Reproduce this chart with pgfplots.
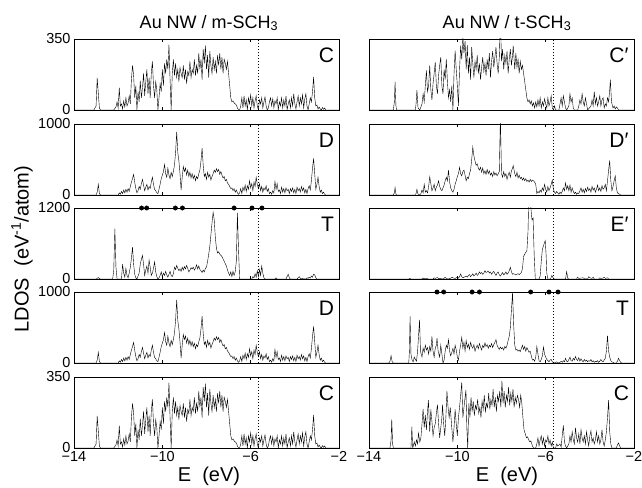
\documentclass[border=0pt]{standalone}
\usepackage{fontspec}
\setmainfont{Liberation Sans}
\usepackage{pgfplots}
\usepackage{pgfplotstable}
\pgfplotsset{compat=1.18}

% left column: Au NW / m-SCH3
\pgfplotstableread[row sep=\\]{
E y\\
-14 0\\ -13.1 0\\ -13.0 20\\ -12.95 158\\ -12.85 10\\ -12.8 0\\ -12.2 0\\ -12.1 15\\ -12.05 40\\ -12.0 10\\
-11.95 110\\ -11.9 20\\ -11.85 30\\ -11.8 5\\ -11.75 45\\ -11.7 15\\ -11.65 60\\ -11.6 20\\ -11.55 35\\ -11.5 70\\
-11.45 30\\ -11.4 150\\ -11.35 220\\ -11.3 170\\ -11.25 60\\ -11.2 120\\ -11.15 0\\ -11.1 90\\ -11.05 40\\ -11.0 145\\
-10.95 60\\ -10.9 110\\ -10.85 180\\ -10.8 70\\ -10.75 140\\ -10.7 200\\ -10.65 80\\ -10.6 160\\ -10.55 60\\ -10.5 180\\
-10.45 240\\ -10.4 120\\ -10.35 60\\ -10.3 140\\ -10.25 100\\ -10.2 0\\ -10.15 60\\ -10.1 130\\ -10.05 90\\ -10.0 200\\
-9.95 120\\ -9.9 230\\ -9.85 180\\ -9.8 250\\ -9.75 200\\ -9.7 322\\ -9.65 150\\ -9.6 0\\ -9.55 180\\ -9.5 250\\
-9.45 170\\ -9.4 230\\ -9.35 160\\ -9.3 200\\ -9.25 140\\ -9.2 210\\ -9.15 180\\ -9.1 160\\ -9.05 220\\ -9.0 150\\
-8.95 200\\ -8.9 130\\ -8.85 190\\ -8.8 170\\ -8.75 240\\ -8.7 160\\ -8.65 200\\ -8.6 180\\ -8.55 250\\ -8.5 170\\
-8.45 220\\ -8.4 180\\ -8.35 280\\ -8.3 200\\ -8.25 250\\ -8.2 150\\ -8.15 300\\ -8.1 230\\ -8.05 317\\ -8.0 200\\
-7.95 270\\ -7.9 160\\ -7.85 290\\ -7.8 220\\ -7.75 180\\ -7.7 260\\ -7.65 200\\ -7.6 240\\ -7.55 180\\ -7.5 270\\
-7.45 220\\ -7.4 280\\ -7.35 200\\ -7.3 260\\ -7.25 180\\ -7.2 250\\ -7.15 230\\ -7.1 200\\ -7.05 240\\ -7.0 180\\
-6.95 120\\ -6.9 60\\ -6.85 40\\ -6.8 45\\ -6.75 35\\ -6.7 30\\ -6.65 25\\ -6.6 10\\ -6.55 0\\ -6.5 0\\
-6.45 20\\ -6.4 60\\ -6.35 10\\ -6.3 70\\ -6.25 20\\ -6.2 50\\ -6.15 0\\ -6.1 60\\ -6.05 30\\ -6.0 75\\
-5.95 20\\ -5.9 60\\ -5.85 10\\ -5.8 45\\ -5.75 70\\ -5.7 20\\ -5.65 0\\ -5.6 50\\ -5.55 30\\ -5.5 60\\
-5.45 10\\ -5.4 40\\ -5.35 65\\ -5.3 20\\ -5.25 0\\ -5.2 10\\ -5.15 40\\ -5.1 60\\ -5.05 20\\ -5.0 55\\
-4.95 10\\ -4.9 45\\ -4.85 30\\ -4.8 60\\ -4.75 0\\ -4.7 40\\ -4.65 20\\ -4.6 60\\ -4.55 10\\ -4.5 50\\
-4.45 20\\ -4.4 70\\ -4.35 0\\ -4.3 30\\ -4.25 50\\ -4.2 10\\ -4.15 60\\ -4.1 20\\ -4.05 80\\ -4.0 30\\
-3.95 5\\ -3.9 40\\ -3.85 70\\ -3.8 20\\ -3.75 60\\ -3.7 30\\ -3.65 75\\ -3.6 10\\ -3.55 55\\ -3.5 80\\
-3.45 20\\ -3.4 0\\ -3.35 30\\ -3.3 60\\ -3.25 40\\ -3.2 90\\ -3.15 163\\ -3.1 60\\ -3.05 20\\ -3.0 25\\
-2.95 5\\ -2.9 15\\ -2.85 5\\ -2.8 0\\ -2.75 12\\ -2.7 3\\ -2.65 10\\ -2.6 0\\ -2.0 0\\
}\tCL

\pgfplotstableread[row sep=\\]{
E y\\
-14 0\\ -13.0 0\\ -12.95 40\\ -12.9 150\\ -12.85 20\\ -12.8 0\\ -12.0 0\\ -11.95 30\\ -11.9 10\\ -11.85 50\\
-11.8 20\\ -11.75 70\\ -11.7 30\\ -11.65 80\\ -11.6 40\\ -11.55 90\\ -11.5 50\\ -11.45 120\\ -11.4 180\\ -11.35 230\\
-11.3 290\\ -11.25 180\\ -11.2 90\\ -11.15 30\\ -11.1 60\\ -11.05 120\\ -11.0 80\\ -10.95 160\\ -10.9 220\\ -10.85 140\\
-10.8 60\\ -10.75 110\\ -10.7 150\\ -10.65 70\\ -10.6 120\\ -10.55 90\\ -10.5 180\\ -10.45 250\\ -10.4 150\\ -10.35 80\\
-10.3 60\\ -10.25 30\\ -10.2 20\\ -10.15 80\\ -10.1 150\\ -10.05 230\\ -10.0 280\\ -9.95 330\\ -9.9 430\\ -9.85 300\\
-9.8 250\\ -9.75 380\\ -9.7 280\\ -9.65 230\\ -9.6 320\\ -9.55 260\\ -9.5 330\\ -9.45 420\\ -9.4 600\\ -9.35 890\\
-9.3 600\\ -9.25 480\\ -9.2 300\\ -9.15 70\\ -9.1 250\\ -9.05 400\\ -9.0 330\\ -8.95 380\\ -8.9 280\\ -8.85 350\\
-8.8 260\\ -8.75 320\\ -8.7 240\\ -8.65 300\\ -8.6 230\\ -8.55 280\\ -8.5 200\\ -8.45 260\\ -8.4 230\\ -8.35 300\\
-8.3 350\\ -8.25 480\\ -8.2 660\\ -8.15 420\\ -8.1 260\\ -8.05 300\\ -8.0 220\\ -7.95 320\\ -7.9 250\\ -7.85 290\\
-7.8 210\\ -7.75 260\\ -7.7 300\\ -7.65 350\\ -7.6 320\\ -7.55 370\\ -7.5 330\\ -7.45 360\\ -7.4 290\\ -7.35 330\\
-7.3 280\\ -7.25 240\\ -7.2 260\\ -7.15 200\\ -7.1 220\\ -7.05 170\\ -7.0 150\\ -6.95 120\\ -6.9 90\\ -6.85 100\\
-6.8 60\\ -6.75 90\\ -6.7 40\\ -6.65 70\\ -6.6 30\\ -6.55 10\\ -6.5 30\\ -6.45 90\\ -6.4 20\\ -6.35 110\\
-6.3 60\\ -6.25 140\\ -6.2 50\\ -6.15 130\\ -6.1 80\\ -6.05 200\\ -6.0 100\\ -5.95 160\\ -5.9 60\\ -5.85 180\\
-5.8 120\\ -5.75 250\\ -5.7 150\\ -5.65 90\\ -5.6 160\\ -5.55 60\\ -5.5 120\\ -5.45 40\\ -5.4 100\\ -5.35 70\\
-5.3 130\\ -5.25 50\\ -5.2 90\\ -5.15 20\\ -5.1 40\\ -5.05 10\\ -5.0 60\\ -4.95 30\\ -4.9 190\\ -4.85 80\\
-4.8 160\\ -4.75 50\\ -4.7 70\\ -4.65 20\\ -4.6 110\\ -4.55 40\\ -4.5 90\\ -4.45 30\\ -4.4 100\\ -4.35 60\\
-4.3 80\\ -4.25 20\\ -4.2 90\\ -4.15 50\\ -4.1 100\\ -4.05 30\\ -4.0 80\\ -3.95 20\\ -3.9 110\\ -3.85 60\\
-3.8 90\\ -3.75 40\\ -3.7 120\\ -3.65 60\\ -3.6 100\\ -3.55 30\\ -3.5 80\\ -3.45 20\\ -3.4 90\\ -3.35 130\\
-3.3 70\\ -3.25 200\\ -3.2 380\\ -3.15 515\\ -3.1 300\\ -3.05 80\\ -3.0 150\\ -2.95 250\\ -2.9 120\\ -2.85 40\\
-2.8 70\\ -2.75 20\\ -2.7 40\\ -2.65 10\\ -2.6 0\\ -2.0 0\\
}\tDL

\pgfplotstableread[row sep=\\]{
E y\\
-14 0\\ -13.0 0\\ -12.95 10\\ -12.9 25\\ -12.85 10\\ -12.8 0\\ -12.25 0\\ -12.2 150\\ -12.15 850\\ -12.1 200\\
-12.05 0\\ -11.85 0\\ -11.8 250\\ -11.75 100\\ -11.7 30\\ -11.65 180\\ -11.6 60\\ -11.55 20\\ -11.5 100\\ -11.45 200\\
-11.4 350\\ -11.35 540\\ -11.3 250\\ -11.25 80\\ -11.2 20\\ -11.15 0\\ -11.1 50\\ -11.05 100\\ -11.0 250\\ -10.95 330\\
-10.9 400\\ -10.85 250\\ -10.8 60\\ -10.75 150\\ -10.7 220\\ -10.65 100\\ -10.6 320\\ -10.55 200\\ -10.5 60\\ -10.45 100\\
-10.4 180\\ -10.35 290\\ -10.3 120\\ -10.25 40\\ -10.2 0\\ -10.15 20\\ -10.1 60\\ -10.05 120\\ -10.0 40\\ -9.95 100\\
-9.9 60\\ -9.85 130\\ -9.8 70\\ -9.75 30\\ -9.7 80\\ -9.65 130\\ -9.6 60\\ -9.55 40\\ -9.5 90\\ -9.45 200\\
-9.4 160\\ -9.35 230\\ -9.3 180\\ -9.25 140\\ -9.2 170\\ -9.15 130\\ -9.1 200\\ -9.05 150\\ -9.0 210\\ -8.95 170\\
-8.9 230\\ -8.85 180\\ -8.8 120\\ -8.75 150\\ -8.7 190\\ -8.65 170\\ -8.6 200\\ -8.55 150\\ -8.5 180\\ -8.45 240\\
-8.4 170\\ -8.35 220\\ -8.3 160\\ -8.25 140\\ -8.2 110\\ -8.15 150\\ -8.1 120\\ -8.05 180\\ -8.0 200\\ -7.95 300\\
-7.9 420\\ -7.85 550\\ -7.8 750\\ -7.75 950\\ -7.7 1127\\ -7.65 1000\\ -7.6 700\\ -7.55 520\\ -7.5 440\\ -7.45 460\\
-7.4 420\\ -7.35 400\\ -7.3 380\\ -7.25 340\\ -7.2 300\\ -7.15 260\\ -7.1 220\\ -7.05 150\\ -7.0 100\\ -6.95 60\\
-6.9 120\\ -6.85 40\\ -6.8 130\\ -6.75 60\\ -6.7 120\\ -6.65 300\\ -6.6 1116\\ -6.55 500\\ -6.5 0\\ -5.95 0\\
-5.9 40\\ -5.85 20\\ -5.8 90\\ -5.75 30\\ -5.7 140\\ -5.65 40\\ -5.6 160\\ -5.55 60\\ -5.5 220\\ -5.45 100\\
-5.4 20\\ -5.35 0\\ -4.9 0\\ -4.85 20\\ -4.8 0\\ -4.4 0\\ -4.35 40\\ -4.3 80\\ -4.25 20\\ -4.2 0\\
-3.9 0\\ -3.85 20\\ -3.8 40\\ -3.75 10\\ -3.5 0\\ -3.45 20\\ -3.4 10\\ -3.35 30\\ -3.3 15\\ -3.25 50\\
-3.2 30\\ -3.15 80\\ -3.1 70\\ -3.05 20\\ -3.0 0\\ -2.0 0\\
}\tTL

% right column: Au NW / t-SCH3
\pgfplotstableread[row sep=\\]{
E y\\
-14 0\\ -12.9 0\\ -12.85 40\\ -12.82 138\\ -12.78 20\\ -12.75 0\\ -11.9 0\\ -11.87 30\\ -11.83 98\\ -11.78 10\\
-11.7 0\\ -11.6 30\\ -11.55 80\\ -11.5 40\\ -11.45 120\\ -11.4 195\\ -11.35 90\\ -11.3 120\\ -11.25 220\\ -11.2 100\\
-11.15 50\\ -11.1 130\\ -11.05 180\\ -11.0 236\\ -10.95 120\\ -10.9 80\\ -10.85 170\\ -10.8 220\\ -10.75 260\\ -10.7 120\\
-10.65 80\\ -10.6 200\\ -10.55 150\\ -10.5 250\\ -10.45 140\\ -10.4 60\\ -10.35 100\\ -10.3 40\\ -10.25 120\\ -10.2 0\\
-10.15 180\\ -10.1 293\\ -10.05 200\\ -10.0 120\\ -9.95 20\\ -9.9 200\\ -9.85 317\\ -9.8 250\\ -9.75 358\\ -9.7 280\\
-9.65 340\\ -9.6 200\\ -9.55 320\\ -9.5 180\\ -9.45 260\\ -9.4 150\\ -9.35 310\\ -9.3 230\\ -9.25 160\\ -9.2 240\\
-9.15 200\\ -9.1 270\\ -9.05 180\\ -9.0 230\\ -8.95 150\\ -8.9 210\\ -8.85 260\\ -8.8 190\\ -8.75 230\\ -8.7 170\\
-8.65 250\\ -8.6 200\\ -8.55 280\\ -8.5 160\\ -8.45 240\\ -8.4 290\\ -8.35 210\\ -8.3 260\\ -8.25 310\\ -8.2 230\\
-8.15 180\\ -8.1 260\\ -8.05 450\\ -8.0 240\\ -7.95 300\\ -7.9 200\\ -7.85 270\\ -7.8 230\\ -7.75 290\\ -7.7 180\\
-7.65 250\\ -7.6 300\\ -7.55 220\\ -7.5 270\\ -7.47 317\\ -7.4 200\\ -7.35 280\\ -7.3 210\\ -7.25 250\\ -7.2 180\\
-7.15 240\\ -7.1 200\\ -7.05 220\\ -7.0 180\\ -6.95 140\\ -6.9 100\\ -6.85 60\\ -6.8 40\\ -6.75 50\\ -6.7 30\\
-6.65 45\\ -6.6 20\\ -6.55 35\\ -6.5 10\\ -6.45 40\\ -6.4 15\\ -6.35 50\\ -6.3 20\\ -6.25 60\\ -6.2 10\\
-6.15 40\\ -6.1 20\\ -6.05 55\\ -6.0 30\\ -5.95 10\\ -5.9 60\\ -5.85 20\\ -5.8 40\\ -5.75 70\\ -5.7 10\\
-5.65 0\\ -5.6 20\\ -5.55 0\\ -5.4 0\\ -5.35 30\\ -5.3 60\\ -5.25 20\\ -5.2 70\\ -5.15 40\\ -5.1 10\\
-5.05 0\\ -4.95 20\\ -4.9 80\\ -4.85 40\\ -4.8 60\\ -4.75 10\\ -4.7 0\\ -4.55 0\\ -4.5 20\\ -4.45 50\\
-4.4 30\\ -4.35 80\\ -4.3 40\\ -4.25 20\\ -4.2 60\\ -4.15 30\\ -4.1 0\\ -3.95 20\\ -3.9 50\\ -3.85 20\\
-3.8 90\\ -3.75 30\\ -3.7 60\\ -3.65 20\\ -3.6 40\\ -3.55 70\\ -3.5 20\\ -3.45 50\\ -3.4 60\\ -3.35 10\\
-3.3 30\\ -3.25 20\\ -3.2 60\\ -3.15 40\\ -3.1 100\\ -3.07 150\\ -3.02 40\\ -2.95 10\\ -2.9 20\\ -2.85 5\\
-2.8 15\\ -2.75 10\\ -2.7 0\\ -2.0 0\\
}\tCRa

\pgfplotstableread[row sep=\\]{
E y\\
-14 0\\ -12.9 0\\ -12.85 30\\ -12.82 105\\ -12.78 10\\ -12.75 0\\ -11.9 0\\ -11.87 20\\ -11.83 80\\ -11.78 10\\
-11.7 0\\ -11.65 20\\ -11.6 70\\ -11.55 30\\ -11.5 150\\ -11.45 40\\ -11.4 60\\ -11.35 30\\ -11.3 120\\ -11.25 257\\
-11.2 160\\ -11.15 60\\ -11.1 100\\ -11.05 150\\ -11.0 60\\ -10.95 110\\ -10.9 140\\ -10.85 200\\ -10.8 120\\ -10.75 80\\
-10.7 60\\ -10.65 100\\ -10.6 140\\ -10.55 200\\ -10.5 250\\ -10.45 200\\ -10.4 350\\ -10.35 180\\ -10.3 100\\ -10.25 60\\
-10.2 40\\ -10.15 80\\ -10.1 150\\ -10.05 200\\ -10.0 260\\ -9.95 300\\ -9.9 390\\ -9.85 300\\ -9.8 270\\ -9.75 330\\
-9.7 350\\ -9.65 280\\ -9.6 200\\ -9.55 250\\ -9.5 230\\ -9.45 300\\ -9.4 350\\ -9.35 500\\ -9.3 676\\ -9.25 550\\
-9.2 480\\ -9.15 420\\ -9.1 440\\ -9.05 380\\ -9.0 350\\ -8.95 390\\ -8.9 320\\ -8.85 380\\ -8.8 300\\ -8.75 340\\
-8.7 290\\ -8.65 360\\ -8.6 300\\ -8.55 340\\ -8.5 280\\ -8.45 310\\ -8.4 260\\ -8.35 330\\ -8.3 280\\ -8.25 310\\
-8.2 270\\ -8.15 300\\ -8.1 330\\ -8.05 1100\\ -8.0 300\\ -7.95 250\\ -7.9 330\\ -7.85 260\\ -7.8 300\\ -7.75 220\\
-7.7 280\\ -7.65 320\\ -7.6 250\\ -7.55 340\\ -7.5 380\\ -7.47 414\\ -7.4 300\\ -7.35 260\\ -7.3 320\\ -7.25 240\\
-7.2 280\\ -7.15 230\\ -7.1 250\\ -7.05 210\\ -7.0 240\\ -6.95 200\\ -6.9 230\\ -6.85 190\\ -6.8 210\\ -6.75 180\\
-6.7 220\\ -6.65 190\\ -6.6 210\\ -6.55 200\\ -6.5 180\\ -6.45 150\\ -6.4 20\\ -6.35 50\\ -6.3 30\\ -6.25 70\\
-6.2 40\\ -6.15 100\\ -6.1 60\\ -6.05 150\\ -6.0 80\\ -5.95 40\\ -5.9 120\\ -5.85 60\\ -5.8 100\\ -5.75 150\\
-5.7 210\\ -5.65 80\\ -5.6 40\\ -5.55 20\\ -5.5 50\\ -5.45 30\\ -5.4 10\\ -5.35 40\\ -5.3 20\\ -5.25 50\\
-5.2 100\\ -5.15 60\\ -5.1 170\\ -5.05 80\\ -5.0 130\\ -4.95 60\\ -4.9 140\\ -4.85 40\\ -4.8 100\\ -4.75 50\\
-4.7 20\\ -4.65 40\\ -4.6 10\\ -4.55 30\\ -4.5 20\\ -4.45 60\\ -4.4 100\\ -4.35 40\\ -4.3 80\\ -4.25 30\\
-4.2 90\\ -4.15 50\\ -4.1 110\\ -4.05 60\\ -4.0 90\\ -3.95 40\\ -3.9 120\\ -3.85 70\\ -3.8 100\\ -3.75 40\\
-3.7 80\\ -3.65 140\\ -3.6 60\\ -3.55 100\\ -3.5 50\\ -3.45 130\\ -3.4 80\\ -3.35 100\\ -3.3 150\\ -3.25 60\\
-3.2 200\\ -3.15 350\\ -3.1 486\\ -3.05 200\\ -3.0 60\\ -2.95 120\\ -2.9 200\\ -2.85 270\\ -2.8 100\\ -2.75 30\\
-2.7 20\\ -2.65 10\\ -2.6 0\\ -2.0 0\\
}\tDR

\pgfplotstableread[row sep=\\]{
E y\\
-14 0\\ -12.2 0\\ -12.15 10\\ -12.1 0\\ -11.6 0\\ -11.55 15\\ -11.5 5\\ -11.4 10\\ -11.3 0\\ -11.1 0\\
-11.05 20\\ -11.0 10\\ -10.9 25\\ -10.85 5\\ -10.6 10\\ -10.55 30\\ -10.5 10\\ -10.45 0\\ -10.3 10\\ -10.25 30\\
-10.2 20\\ -10.1 10\\ -10.0 30\\ -9.95 15\\ -9.9 40\\ -9.85 85\\ -9.8 40\\ -9.75 20\\ -9.7 30\\ -9.6 50\\
-9.55 30\\ -9.5 60\\ -9.45 75\\ -9.4 40\\ -9.35 60\\ -9.3 90\\ -9.25 50\\ -9.2 70\\ -9.15 100\\ -9.1 60\\
-9.05 80\\ -9.0 120\\ -8.95 90\\ -8.9 110\\ -8.85 80\\ -8.8 100\\ -8.75 140\\ -8.7 110\\ -8.65 120\\ -8.6 135\\
-8.55 100\\ -8.5 120\\ -8.45 80\\ -8.4 110\\ -8.35 130\\ -8.3 90\\ -8.25 60\\ -8.2 100\\ -8.15 120\\ -8.1 70\\
-8.05 50\\ -8.0 80\\ -7.95 110\\ -7.9 70\\ -7.85 90\\ -7.8 120\\ -7.75 80\\ -7.7 100\\ -7.65 140\\ -7.6 200\\
-7.55 120\\ -7.5 80\\ -7.45 90\\ -7.4 80\\ -7.35 70\\ -7.3 80\\ -7.25 90\\ -7.2 75\\ -7.15 90\\ -7.1 110\\
-7.05 180\\ -7.0 380\\ -6.95 420\\ -6.9 450\\ -6.85 480\\ -6.8 800\\ -6.77 1300\\ -6.72 1400\\ -6.67 1200\\ -6.62 1000\\
-6.57 1030\\ -6.52 400\\ -6.47 0\\ -6.3 0\\ -6.25 50\\ -6.2 300\\ -6.15 500\\ -6.1 560\\ -6.05 620\\ -6.02 650\\
-5.98 400\\ -5.95 100\\ -5.9 0\\ -5.78 0\\ -5.72 60\\ -5.65 10\\ -5.6 0\\ -5.1 0\\ -5.05 125\\ -5.0 10\\
-4.95 0\\ -4.6 0\\ -4.55 30\\ -4.5 10\\ -4.3 20\\ -4.25 5\\ -4.1 0\\ -4.05 40\\ -4.0 20\\ -3.9 10\\
-3.85 30\\ -3.8 0\\ -3.6 0\\ -3.55 20\\ -3.5 10\\ -3.4 15\\ -3.35 30\\ -3.3 10\\ -3.2 20\\ -3.15 0\\
-2.0 0\\
}\tER

\pgfplotstableread[row sep=\\]{
E y\\
-14 0\\ -13.1 0\\ -13.05 30\\ -13.0 124\\ -12.95 20\\ -12.9 0\\ -12.2 0\\ -12.17 200\\ -12.14 790\\ -12.1 150\\
-12.05 50\\ -12.0 20\\ -11.95 100\\ -11.9 60\\ -11.85 30\\ -11.8 200\\ -11.75 500\\ -11.71 730\\ -11.67 200\\ -11.6 100\\
-11.55 250\\ -11.5 180\\ -11.45 300\\ -11.4 220\\ -11.35 260\\ -11.3 150\\ -11.25 280\\ -11.2 200\\ -11.15 450\\ -11.1 200\\
-11.05 100\\ -11.0 250\\ -10.95 300\\ -10.92 420\\ -10.87 200\\ -10.8 100\\ -10.75 300\\ -10.7 150\\ -10.65 0\\ -10.6 50\\
-10.55 200\\ -10.5 300\\ -10.45 250\\ -10.4 395\\ -10.35 200\\ -10.3 120\\ -10.25 180\\ -10.2 250\\ -10.15 150\\ -10.1 300\\
-10.05 220\\ -10.0 100\\ -9.95 50\\ -9.9 200\\ -9.85 300\\ -9.8 434\\ -9.75 250\\ -9.7 350\\ -9.65 200\\ -9.6 380\\
-9.55 260\\ -9.5 320\\ -9.45 230\\ -9.4 350\\ -9.35 280\\ -9.3 250\\ -9.25 310\\ -9.2 200\\ -9.15 260\\ -9.1 300\\
-9.05 240\\ -9.0 330\\ -8.95 270\\ -8.9 220\\ -8.85 300\\ -8.8 260\\ -8.75 340\\ -8.7 280\\ -8.65 310\\ -8.6 250\\
-8.55 300\\ -8.5 270\\ -8.45 330\\ -8.4 260\\ -8.35 310\\ -8.3 350\\ -8.25 395\\ -8.2 300\\ -8.15 260\\ -8.1 230\\
-8.05 270\\ -8.0 240\\ -7.95 260\\ -7.9 220\\ -7.85 280\\ -7.8 250\\ -7.75 300\\ -7.7 380\\ -7.65 450\\ -7.6 600\\
-7.55 900\\ -7.5 1183\\ -7.45 650\\ -7.4 300\\ -7.35 220\\ -7.3 230\\ -7.25 200\\ -7.2 220\\ -7.15 190\\ -7.1 250\\
-7.05 300\\ -7.0 230\\ -6.95 280\\ -6.9 200\\ -6.85 260\\ -6.8 220\\ -6.75 180\\ -6.7 200\\ -6.65 120\\ -6.6 50\\
-6.55 60\\ -6.5 30\\ -6.45 100\\ -6.4 280\\ -6.35 150\\ -6.3 40\\ -6.25 20\\ -6.2 60\\ -6.15 120\\ -6.1 270\\
-6.05 150\\ -6.0 100\\ -5.95 60\\ -5.9 40\\ -5.85 20\\ -5.8 50\\ -5.75 60\\ -5.7 20\\ -5.65 10\\ -5.6 0\\
-5.5 20\\ -5.45 0\\ -5.35 10\\ -5.3 30\\ -5.25 10\\ -5.2 40\\ -5.15 20\\ -5.1 80\\ -5.05 30\\ -5.0 20\\
-4.95 60\\ -4.9 100\\ -4.85 40\\ -4.8 30\\ -4.75 80\\ -4.7 50\\ -4.65 110\\ -4.6 60\\ -4.55 40\\ -4.5 90\\
-4.45 30\\ -4.4 70\\ -4.35 40\\ -4.3 20\\ -4.25 60\\ -4.2 30\\ -4.15 50\\ -4.1 20\\ -4.05 40\\ -4.0 30\\
-3.95 60\\ -3.9 20\\ -3.85 40\\ -3.8 10\\ -3.75 30\\ -3.7 20\\ -3.65 40\\ -3.6 10\\ -3.55 30\\ -3.5 60\\
-3.45 30\\ -3.4 20\\ -3.35 50\\ -3.3 80\\ -3.25 200\\ -3.2 462\\ -3.15 200\\ -3.1 100\\ -3.05 40\\ -3.0 20\\
-2.95 10\\ -2.9 0\\ -2.8 0\\ -2.75 30\\ -2.7 80\\ -2.65 40\\ -2.6 10\\ -2.55 0\\ -2.0 0\\
}\tTR

\pgfplotstableread[row sep=\\]{
E y\\
-14 0\\ -13.05 0\\ -13.0 40\\ -12.97 141\\ -12.93 20\\ -12.9 0\\ -12.1 0\\ -12.06 105\\ -12.02 0\\ -11.95 30\\
-11.9 10\\ -11.85 40\\ -11.8 20\\ -11.76 73\\ -11.7 30\\ -11.65 50\\ -11.6 120\\ -11.55 193\\ -11.5 100\\ -11.45 163\\
-11.4 90\\ -11.35 180\\ -11.31 236\\ -11.25 80\\ -11.2 190\\ -11.15 130\\ -11.1 60\\ -11.05 100\\ -11.0 120\\ -10.95 170\\
-10.9 214\\ -10.85 120\\ -10.8 50\\ -10.75 100\\ -10.7 150\\ -10.67 214\\ -10.62 120\\ -10.57 60\\ -10.52 150\\ -10.47 280\\
-10.42 200\\ -10.37 150\\ -10.32 200\\ -10.25 98\\ -10.2 30\\ -10.15 100\\ -10.1 190\\ -10.05 120\\ -10.0 60\\ -9.95 150\\
-9.9 200\\ -9.85 260\\ -9.8 324\\ -9.75 150\\ -9.7 200\\ -9.65 250\\ -9.61 287\\ -9.57 100\\ -9.53 0\\ -9.48 220\\
-9.43 150\\ -9.38 250\\ -9.33 180\\ -9.28 230\\ -9.23 160\\ -9.18 210\\ -9.13 190\\ -9.08 240\\ -9.03 170\\ -8.98 200\\
-8.93 150\\ -8.88 230\\ -8.83 190\\ -8.78 260\\ -8.73 180\\ -8.68 220\\ -8.63 200\\ -8.58 270\\ -8.53 190\\ -8.48 240\\
-8.43 210\\ -8.38 290\\ -8.33 200\\ -8.28 250\\ -8.23 180\\ -8.18 260\\ -8.13 230\\ -8.08 280\\ -8.03 200\\ -7.98 331\\
-7.93 220\\ -7.88 280\\ -7.83 200\\ -7.78 260\\ -7.73 230\\ -7.68 300\\ -7.63 210\\ -7.58 270\\ -7.53 230\\ -7.48 290\\
-7.43 200\\ -7.38 250\\ -7.33 220\\ -7.28 260\\ -7.23 240\\ -7.18 200\\ -7.13 260\\ -7.08 220\\ -7.03 150\\ -6.98 90\\
-6.92 68\\ -6.87 50\\ -6.82 55\\ -6.77 40\\ -6.72 30\\ -6.67 35\\ -6.6 10\\ -6.55 0\\ -6.45 0\\ -6.4 20\\
-6.35 50\\ -6.3 10\\ -6.25 40\\ -6.2 60\\ -6.15 20\\ -6.1 50\\ -6.05 10\\ -6.0 40\\ -5.95 30\\ -5.9 60\\
-5.85 20\\ -5.8 40\\ -5.75 10\\ -5.7 30\\ -5.65 0\\ -5.55 0\\ -5.5 20\\ -5.45 10\\ -5.35 20\\ -5.3 5\\
-5.25 60\\ -5.2 112\\ -5.15 30\\ -5.1 10\\ -5.05 0\\ -4.95 20\\ -4.9 60\\ -4.85 30\\ -4.8 80\\ -4.75 40\\
-4.7 20\\ -4.65 100\\ -4.6 50\\ -4.55 30\\ -4.5 70\\ -4.45 20\\ -4.4 90\\ -4.35 50\\ -4.3 30\\ -4.25 60\\
-4.2 20\\ -4.15 80\\ -4.1 40\\ -4.05 10\\ -4.0 60\\ -3.95 85\\ -3.9 30\\ -3.85 50\\ -3.8 20\\ -3.75 40\\
-3.7 80\\ -3.65 30\\ -3.6 60\\ -3.55 20\\ -3.5 40\\ -3.45 90\\ -3.4 30\\ -3.35 10\\ -3.3 40\\ -3.25 80\\
-3.2 150\\ -3.15 236\\ -3.1 80\\ -3.05 20\\ -3.0 0\\ -2.8 0\\ -2.75 15\\ -2.7 25\\ -2.65 10\\ -2.6 0\\
-2.0 0\\
}\tCRb

\pgfplotsset{
  panel/.style={
    scale only axis, width=265pt, height=71pt, anchor=south west,
    xmin=-14, xmax=-2, ymin=0,
    axis line style={line width=0.9pt},
    tick style={black,line width=0.7pt}, major tick length=3pt, tick align=inside,
    xtick={-14,-10,-6,-2}, xticklabels={},
    tick label style={font=\fontsize{14.5}{14.5}\selectfont},
    cycle list={{black,line width=0.8pt,mark=none}},
  },
  bottomrow/.style={xticklabels={−14,−10,−6,−2}},
}
\tikzset{
  lettr/.style={anchor=east,inner sep=0pt,font=\fontsize{21}{21}\selectfont},
  fermi/.style={black,dash pattern=on 1pt off 2pt,line width=0.9pt},
  dots/.style={black,only marks,mark=*,mark size=2.2pt},
}

\begin{document}
\begin{tikzpicture}
\useasboundingbox (0,0) rectangle (642pt,487pt);

% ---------- left column ----------
\begin{axis}[panel, at={(74pt,377pt)}, ymax=350, ytick={0,350}, yticklabels={0,350}]
\addplot table[x=E,y=y] {\tCL};
\addplot[fermi] coordinates {(-5.65,0) (-5.65,350)};
\node[lettr] at (rel axis cs:0.982,0.775) {C};
\end{axis}

\begin{axis}[panel, at={(74pt,292pt)}, ymax=1000, ytick={0,1000}, yticklabels={0,1000}]
\addplot table[x=E,y=y] {\tDL};
\addplot[fermi] coordinates {(-5.65,0) (-5.65,1000)};
\node[lettr] at (rel axis cs:0.982,0.775) {D};
\end{axis}

\begin{axis}[panel, at={(74pt,208pt)}, ymax=1200, ytick={0,1200}, yticklabels={0,1200}, clip=false]
\addplot table[x=E,y=y] {\tTL};
\addplot[fermi] coordinates {(-5.65,0) (-5.65,1200)};
\addplot[dots] coordinates {(-10.94,1200) (-10.71,1200) (-9.41,1200) (-9.09,1200) (-6.75,1200) (-5.94,1200) (-5.49,1200)};
\node[lettr] at (rel axis cs:0.982,0.775) {T};
\end{axis}

\begin{axis}[panel, at={(74pt,124pt)}, ymax=1000, ytick={0,1000}, yticklabels={0,1000}]
\addplot table[x=E,y=y] {\tDL};
\addplot[fermi] coordinates {(-5.65,0) (-5.65,1000)};
\node[lettr] at (rel axis cs:0.982,0.775) {D};
\end{axis}

\begin{axis}[panel, bottomrow, at={(74pt,39pt)}, ymax=350, ytick={0,350}, yticklabels={0,350}]
\addplot table[x=E,y=y] {\tCL};
\addplot[fermi] coordinates {(-5.65,0) (-5.65,350)};
\node[lettr] at (rel axis cs:0.982,0.775) {C};
\end{axis}

% ---------- right column ----------
\begin{axis}[panel, at={(369pt,377pt)}, ymax=350, ytick={0,350}, yticklabels={}]
\addplot table[x=E,y=y] {\tCRa};
\addplot[fermi] coordinates {(-5.65,0) (-5.65,350)};
\node[lettr] at (rel axis cs:0.98,0.775) {C′};
\end{axis}

\begin{axis}[panel, at={(369pt,292pt)}, ymax=1000, ytick={0,1000}, yticklabels={}]
\addplot table[x=E,y=y] {\tDR};
\addplot[fermi] coordinates {(-5.65,0) (-5.65,1000)};
\node[lettr] at (rel axis cs:0.98,0.775) {D′};
\end{axis}

\begin{axis}[panel, at={(369pt,208pt)}, ymax=1200, ytick={0,1200}, yticklabels={}]
\addplot table[x=E,y=y] {\tER};
\addplot[fermi] coordinates {(-5.65,0) (-5.65,1200)};
\node[lettr] at (rel axis cs:0.98,0.775) {E′};
\end{axis}

\begin{axis}[panel, at={(369pt,124pt)}, ymax=1200, ytick={0,1200}, yticklabels={}, clip=false]
\addplot table[x=E,y=y] {\tTR};
\addplot[fermi] coordinates {(-5.65,0) (-5.65,1200)};
\addplot[dots] coordinates {(-10.92,1200) (-10.62,1200) (-9.33,1200) (-9.0,1200) (-6.68,1200) (-5.85,1200) (-5.44,1200)};
\node[lettr] at (rel axis cs:0.982,0.775) {T};
\end{axis}

\begin{axis}[panel, bottomrow, at={(369pt,39pt)}, ymax=350, ytick={0,350}, yticklabels={}]
\addplot table[x=E,y=y] {\tCRb};
\addplot[fermi] coordinates {(-5.65,0) (-5.65,350)};
\node[lettr] at (rel axis cs:0.982,0.775) {C};
\end{axis}

% ---------- titles and axis labels ----------
\node[font=\fontsize{18}{18}\selectfont] at (209pt,464pt) {Au NW / m-SCH\textsubscript{3}};
\node[font=\fontsize{18}{18}\selectfont] at (507pt,464pt) {Au NW / t-SCH\textsubscript{3}};
\node[font=\fontsize{20}{20}\selectfont] at (209pt,11pt) {E\ \ (eV)};
\node[font=\fontsize{20}{20}\selectfont] at (507pt,11pt) {E\ \ (eV)};
\node[font=\fontsize{20}{20}\selectfont,rotate=90] at (22pt,238pt) {LDOS\ \ (eV\textsuperscript{-1}/atom)};
\end{tikzpicture}
\end{document}
